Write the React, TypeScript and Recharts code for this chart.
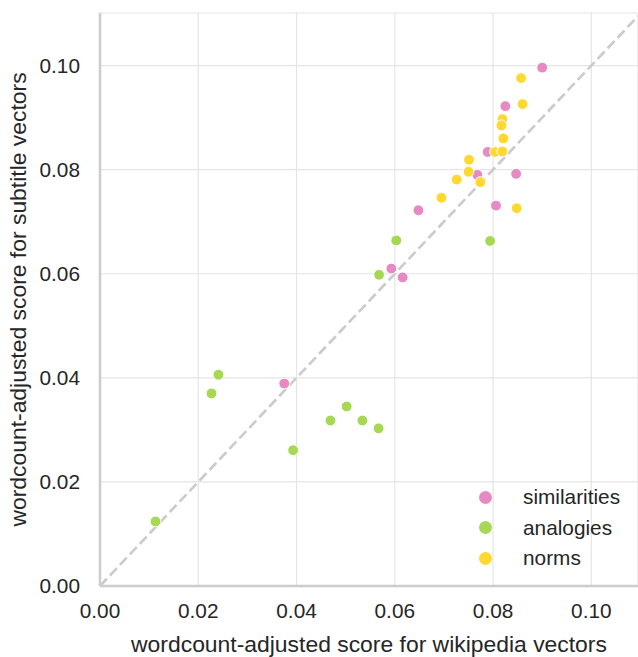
import React from "react";
import {
  ScatterChart,
  Scatter,
  XAxis,
  YAxis,
  CartesianGrid,
  ReferenceLine,
  Legend,
} from "recharts";

const simX = [0.09, 0.0825, 0.0789, 0.0768, 0.0847, 0.0806, 0.0648, 0.0593, 0.0616, 0.0375];
const simY = [0.0996, 0.0922, 0.0834, 0.079, 0.0792, 0.0731, 0.0722, 0.061, 0.0593, 0.0389];

const anaX = [0.0603, 0.0794, 0.0568, 0.0241, 0.0227, 0.0502, 0.0469, 0.0534, 0.0567, 0.0393, 0.0113];
const anaY = [0.0664, 0.0663, 0.0598, 0.0406, 0.037, 0.0345, 0.0318, 0.0318, 0.0303, 0.0261, 0.0124];

const normX = [0.0857, 0.086, 0.0819, 0.0817, 0.0821, 0.0804, 0.0819, 0.0751, 0.075, 0.0726, 0.0774, 0.0695, 0.0848];
const normY = [0.0976, 0.0926, 0.0897, 0.0885, 0.086, 0.0834, 0.0835, 0.0819, 0.0796, 0.0781, 0.0776, 0.0746, 0.0726];

const ticks = [0, 0.02, 0.04, 0.06, 0.08, 0.1];
const xMax = 0.1095;
const yMax = 0.1101;

const toPoints = (xs: number[], ys: number[]) => xs.map((x, i) => ({ x, y: ys[i] }));

const SERIES = [
  { name: "similarities", color: "#e78ac3", data: toPoints(simX, simY) },
  { name: "analogies", color: "#a6d854", data: toPoints(anaX, anaY) },
  { name: "norms", color: "#ffd92f", data: toPoints(normX, normY) },
];

const FONT = '"Liberation Sans", Arial, sans-serif';
const TEXT = "#262626";

const Dot = (props: any) => (
  <circle cx={props.cx} cy={props.cy} r={5.4} fill={props.fill} stroke="#ffffff" strokeWidth={1} />
);

const LegendBox = () => (
  <div style={{ fontFamily: FONT, fontSize: 20.8, color: TEXT }}>
    {SERIES.map((s) => (
      <div key={s.name} style={{ display: "flex", alignItems: "center", height: 30.5 }}>
        <span
          style={{
            width: 13,
            height: 13,
            borderRadius: "50%",
            background: s.color,
            flexShrink: 0,
          }}
        />
        <span style={{ marginLeft: 31.5 }}>{s.name}</span>
      </div>
    ))}
  </div>
);

export default function App() {
  const tickStyle = { fontFamily: FONT, fontSize: 20.8, fill: TEXT };
  const axisLine = { stroke: "#cccccc", strokeWidth: 2.5 };

  return (
    <div style={{ position: "absolute", left: 0, top: 0, background: "#fff" }}>
      <ScatterChart width={638} height={657} margin={{ top: 13, right: 0, bottom: 0, left: 0 }}>
        <CartesianGrid stroke="#e5e5e5" strokeWidth={1.2} />
        <XAxis
          type="number"
          dataKey="x"
          domain={[0, xMax]}
          allowDataOverflow
          ticks={ticks}
          tickFormatter={(v: number) => v.toFixed(2)}
          tick={tickStyle}
          tickLine={false}
          tickSize={0}
          tickMargin={17}
          axisLine={axisLine}
          height={71}
          label={{
            value: "wordcount-adjusted score for wikipedia vectors",
            position: "insideBottom",
            offset: 5,
            style: { fontFamily: FONT, fontSize: 22.9, fill: TEXT },
          }}
        />
        <YAxis
          type="number"
          dataKey="y"
          domain={[0, yMax]}
          allowDataOverflow
          ticks={ticks}
          tickFormatter={(v: number) => v.toFixed(2)}
          tick={tickStyle}
          tickLine={false}
          tickSize={0}
          tickMargin={20}
          axisLine={axisLine}
          width={100}
          label={{
            content: ({ viewBox }: any) => {
              const cx = viewBox.x + 26;
              const cy = viewBox.y + viewBox.height / 2;
              return (
                <text
                  x={cx}
                  y={cy}
                  transform={`rotate(-90, ${cx}, ${cy})`}
                  textAnchor="middle"
                  fontFamily={FONT}
                  fontSize={22.9}
                  fill={TEXT}
                >
                  wordcount-adjusted score for subtitle vectors
                </text>
              );
            },
          }}
        />
        <ReferenceLine
          segment={[
            { x: 0, y: 0 },
            { x: xMax, y: xMax },
          ]}
          stroke="#cccccc"
          strokeWidth={2.7}
          strokeDasharray="10 4.5"
        />
        {SERIES.map((s) => (
          <Scatter
            key={s.name}
            name={s.name}
            data={s.data}
            fill={s.color}
            shape={Dot}
            isAnimationActive={false}
          />
        ))}
        <Legend
          layout="vertical"
          align="center"
          verticalAlign="middle"
          wrapperStyle={{ left: 478.5, top: 481.75, width: 150 }}
          content={() => <LegendBox />}
        />
      </ScatterChart>
    </div>
  );
}
